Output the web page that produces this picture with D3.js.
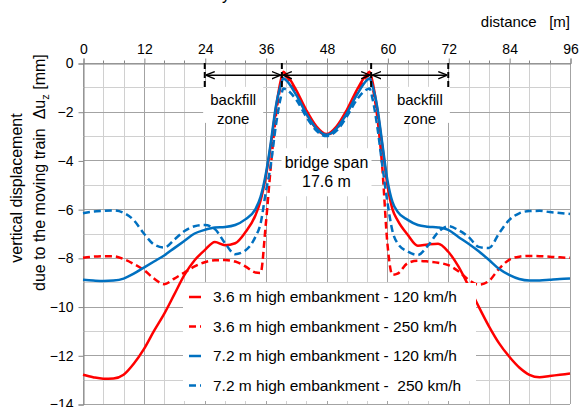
<!DOCTYPE html>
<html>
<head>
<meta charset="utf-8">
<script src="https://cdn.jsdelivr.net/npm/d3@7"></script>
<style>
	html, body { margin: 0; padding: 0; background: #fff; }
	svg { display: block; font-family: "Liberation Sans", Arial, sans-serif; }
</style>
</head>
<body>
<div id="chart"></div>
<script>

// distance along the track [m], shared by all four series
const distance = [0, 2, 4, 6, 8, 10, 12, 14, 16, 18, 20, 22, 24, 26, 28, 30, 32, 34, 35, 36, 37, 38, 39, 39.5, 40,
	42, 44, 46, 48, 50, 52, 54, 56, 56.5, 57, 58, 59, 60, 61, 62, 64, 66, 68, 70, 72, 74, 76, 78, 80, 82, 84, 86, 88, 90, 92, 94, 96];

// vertical displacement [mm]
const emb36_120 = [-12.8, -12.9, -12.96, -12.95, -12.8, -12.35, -11.75, -11.0, -10.3, -9.5, -8.7, -8.1, -7.68, -7.35, -7.48, -7.4, -6.95, -6.25, -5.65, -4.7, -3.4, -1.9, -0.7, -0.36, -0.45,
	-1.1, -1.93, -2.6, -2.92, -2.6, -1.93, -1.1, -0.45, -0.36, -0.7, -1.9, -3.4, -5.0, -6.0, -6.45, -7.05, -7.5, -7.45, -7.42, -7.75, -8.35, -9.15, -10.0, -10.8, -11.5, -12.05, -12.5, -12.8, -12.9, -12.85, -12.8, -12.75];
const emb36_250 = [-8.0, -7.95, -7.93, -7.93, -8.05, -8.25, -8.5, -8.85, -9.08, -8.85, -8.6, -8.35, -8.18, -8.1, -8.09, -8.15, -8.35, -8.6, -8.62, -6.7, -4.3, -2.2, -0.9, -0.5, -0.55,
	-1.2, -2.05, -2.7, -2.95, -2.7, -2.05, -1.2, -0.55, -0.5, -0.9, -2.2, -4.3, -7.4, -8.7, -8.65, -8.22, -8.12, -8.15, -8.2, -8.3, -8.55, -8.9, -9.1, -8.95, -8.45, -8.08, -7.95, -7.92, -7.93, -7.95, -7.98, -8.0];
const emb72_120 = [-8.9, -8.93, -8.95, -8.93, -8.85, -8.65, -8.4, -8.15, -7.9, -7.6, -7.3, -7.0, -6.85, -6.75, -6.73, -6.65, -6.42, -6.0, -5.5, -4.6, -3.3, -1.8, -0.9, -0.63, -0.7,
	-1.3, -2.07, -2.68, -2.95, -2.68, -2.07, -1.3, -0.7, -0.63, -0.9, -1.8, -3.3, -4.8, -5.7, -6.1, -6.44, -6.65, -6.72, -6.75, -6.85, -7.14, -7.42, -7.73, -8.08, -8.45, -8.7, -8.87, -8.93, -8.93, -8.9, -8.87, -8.85];
const emb72_250 = [-6.17, -6.1, -6.07, -6.05, -6.15, -6.45, -7.0, -7.45, -7.58, -7.25, -6.9, -6.7, -6.65, -6.82, -7.4, -7.85, -7.7, -7.13, -6.6, -5.35, -4.2, -2.6, -1.4, -1.05, -1.08,
	-1.5, -2.2, -2.78, -3.0, -2.78, -2.2, -1.5, -1.08, -1.05, -1.4, -2.6, -4.2, -5.7, -6.9, -7.4, -7.74, -7.88, -7.5, -6.95, -6.7, -6.86, -7.14, -7.55, -7.6, -7.0, -6.45, -6.17, -6.08, -6.07, -6.12, -6.16, -6.2];

const seriesNames = [
	"3.6 m high embankment - 120 km/h",
	"3.6 m high embankment - 250 km/h",
	"7.2 m high embankment - 120 km/h",
	"7.2 m high embankment -  250 km/h"
];

const xTickValues = [0, 12, 24, 36, 48, 60, 72, 84, 96];
const yTickValues = [0, -2, -4, -6, -8, -10, -12, -14];

// backfill / bridge limits [m]
const zoneMarks = [24, 39.2, 56.8, 72];

const series = [
	{ name: seriesNames[0], values: emb36_120, color: '#ff0000', dash: null },
	{ name: seriesNames[1], values: emb36_250, color: '#ff0000', dash: '7,4' },
	{ name: seriesNames[2], values: emb72_120, color: '#0070c0', dash: null },
	{ name: seriesNames[3], values: emb72_250, color: '#0070c0', dash: '7,4' }
];

const width = 579,
	height = 407,
	margin = { top: 63, right: 9, bottom: 3, left: 83 },
	gridMinor = '#d0d0d0',
	gridMajor = '#a3a3a3';

const x = d3.scaleLinear()
	.domain([0, 96])
	.range([margin.left, width - margin.right]);

const y = d3.scaleLinear()
	.domain([0, -14])
	.range([margin.top, height - margin.bottom]);

const svg = d3.select('#chart').append('svg')
	.attr('width', width)
	.attr('height', height);

// cut-off caption above the figure, only the tail of the letter shows
svg.append('text')
	.attr('x', 222)
	.attr('y', 0)
	.style('font-size', '16px')
	.text('y');

// ###
// GRID
// ###
const grid = svg.append('g').attr('class', 'grid');

grid.selectAll('.grid--v')
	.data(d3.range(0, 97, 4))
	.enter().append('line')
	.attr('x1', d => Math.round(x(d)) + 0.5)
	.attr('x2', d => Math.round(x(d)) + 0.5)
	.attr('y1', y(0))
	.attr('y2', y(-14))
	.style('stroke', d => d % 12 == 0 ? gridMajor : gridMinor)
	.style('stroke-width', 1);

grid.selectAll('.grid--h')
	.data(d3.range(0, -15, -1))
	.enter().append('line')
	.attr('x1', x(0))
	.attr('x2', x(96))
	.attr('y1', d => Math.round(y(d)) + 0.5)
	.attr('y2', d => Math.round(y(d)) + 0.5)
	.style('stroke', d => d % 2 == 0 ? gridMajor : gridMinor)
	.style('stroke-width', 1);

// ###
// AXES
// ###
const xAxis = svg.append('g')
	.attr('transform', `translate(0.5, ${Math.round(y(0)) + 0.5})`)
	.call(d3.axisTop(x).tickValues(xTickValues).tickSize(5).tickPadding(5));

const yAxis = svg.append('g')
	.attr('transform', `translate(${Math.round(x(0)) + 0.5}, 0.5)`)
	.call(d3.axisLeft(y).tickValues(yTickValues).tickSize(5).tickPadding(5));

[xAxis, yAxis].forEach(ax => {
	ax.select('.domain').style('stroke', '#868686');
	ax.selectAll('.tick line').style('stroke', '#868686');
	ax.selectAll('.tick text')
		.style('font-size', '14px')
		.style('font-family', '"Liberation Sans", Arial, sans-serif')
		.style('fill', '#000');
});

// minor ticks on the top axis
svg.append('g').selectAll('line')
	.data(d3.range(4, 96, 4).filter(d => d % 12 != 0))
	.enter().append('line')
	.attr('x1', d => Math.round(x(d)) + 0.5)
	.attr('x2', d => Math.round(x(d)) + 0.5)
	.attr('y1', Math.round(y(0)) + 0.5)
	.attr('y2', Math.round(y(0)) - 2.5)
	.style('stroke', '#868686');

svg.append('text')
	.attr('x', width - 9)
	.attr('y', 27)
	.attr('text-anchor', 'end')
	.style('font-size', '15px')
	.style('white-space', 'pre')
	.text('distance   [m]');

// y title, two rotated lines
svg.append('text')
	.attr('transform', 'translate(22, 188) rotate(-90)')
	.attr('text-anchor', 'middle')
	.style('font-size', '16px')
	.text('vertical displacement');

const yTitle2 = svg.append('text')
	.attr('transform', 'translate(45, 291) rotate(-90)')
	.attr('text-anchor', 'start')
	.style('font-size', '16px')
	.style('white-space', 'pre');
yTitle2.append('tspan').text('due to the moving train  \u0394u');
yTitle2.append('tspan').attr('dy', 4).style('font-size', '11px').text('z');
yTitle2.append('tspan').attr('dy', -4).text(' [mm]');

// ###
// ANNOTATION BOXES
// ###
const notes = [
	{ lines: ['backfill', 'zone'], cx: 29.6, top: -0.98, w: 60, h: 36 },
	{ lines: ['backfill', 'zone'], cx: 66.4, top: -0.98, w: 60, h: 36 },
	{ lines: ['bridge span', '17.6 m'], cx: 48, top: -3.5, w: 90, h: 48 }
];

notes.forEach(n => {
	svg.append('rect')
		.attr('x', x(n.cx) - n.w / 2)
		.attr('y', y(n.top))
		.attr('width', n.w)
		.attr('height', n.h)
		.style('fill', '#fff');
	n.lines.forEach((t, i) => {
		svg.append('text')
			.attr('x', x(n.cx))
			.attr('y', y(n.top) + (n.h > 40 ? 20 : 18) + i * 19)
			.attr('text-anchor', 'middle')
			.style('font-size', n.h > 40 ? '16px' : '15px')
			.text(t);
	});
});

// ###
// CURVES
// ###
const line = d3.line()
	.x((d, i) => x(distance[i]))
	.y(d => y(d))
	.curve(d3.curveMonotoneX);

svg.append('g').selectAll('path')
	.data(series)
	.enter().append('path')
	.attr('d', d => line(d.values))
	.style('fill', 'none')
	.style('stroke', d => d.color)
	.style('stroke-width', 2.5)
	.style('stroke-dasharray', d => d.dash);

// ###
// ZONE MARKS AND ARROWS
// ###
const defs = svg.append('defs');
['start', 'end'].forEach(k => {
	defs.append('marker')
		.attr('id', 'arrow-' + k)
		.attr('viewBox', '0 -5 10 10')
		.attr('refX', 10)
		.attr('refY', 0)
		.attr('markerWidth', 9)
		.attr('markerHeight', 9)
		.attr('markerUnits', 'userSpaceOnUse')
		.attr('orient', k == 'start' ? 'auto-start-reverse' : 'auto')
		.append('path')
		.attr('d', 'M0,-4L10,0L0,4')
		.style('fill', 'none')
		.style('stroke', '#000')
		.style('stroke-width', 1.5);
});

svg.append('g').selectAll('line')
	.data(zoneMarks)
	.enter().append('line')
	.attr('x1', d => x(d))
	.attr('x2', d => x(d))
	.attr('y1', y(0))
	.attr('y2', y(-1))
	.style('stroke', '#000')
	.style('stroke-width', 2)
	.style('stroke-dasharray', '6,3');

svg.append('g').selectAll('line')
	.data(d3.pairs(zoneMarks))
	.enter().append('line')
	.attr('x1', d => x(d[0]) + 1)
	.attr('x2', d => x(d[1]) - 1)
	.attr('y1', y(-0.5))
	.attr('y2', y(-0.5))
	.style('stroke', '#000')
	.style('stroke-width', 1.5)
	.attr('marker-start', 'url(#arrow-start)')
	.attr('marker-end', 'url(#arrow-end)');

// ###
// LEGEND
// ###
const legend = svg.append('g').attr('transform', 'translate(183, 283)');

legend.append('rect')
	.attr('width', 293)
	.attr('height', 118)
	.style('fill', '#fff');

const legendItems = legend.selectAll('.legend-item')
	.data(series)
	.enter().append('g')
	.attr('transform', (d, i) => `translate(0, ${14 + i * 29.5})`);

legendItems.append('line')
	.attr('x1', 6)
	.attr('x2', 18)
	.style('stroke', d => d.color)
	.style('stroke-width', 2.5)
	.style('stroke-dasharray', d => d.dash);

legendItems.append('text')
	.attr('x', 30)
	.attr('dy', '0.35em')
	.style('font-size', '15.5px')
	.style('white-space', 'pre')
	.text(d => d.name);

</script>
</body>
</html>
